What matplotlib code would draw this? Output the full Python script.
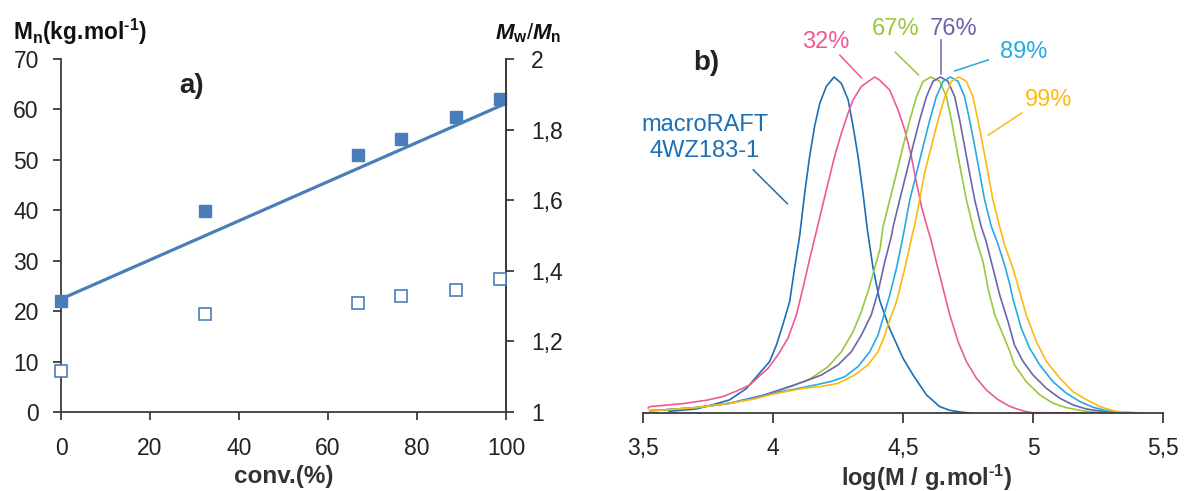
import numpy as np
import matplotlib
matplotlib.use("Agg")
import matplotlib.pyplot as plt

plt.rcParams['font.family'] = ['Liberation Sans', 'DejaVu Sans']
plt.rcParams['mathtext.fontset'] = 'custom'
plt.rcParams['mathtext.rm'] = 'Liberation Sans'
plt.rcParams['mathtext.bf'] = 'Liberation Sans:bold'
plt.rcParams['mathtext.it'] = 'Liberation Sans:italic:bold'

# ---------------- data: panel a ----------------
conv = [0, 32.3, 66.7, 76.4, 88.8, 98.7]
Mn = [22.0, 39.9, 50.9, 54.1, 58.4, 62.1]
dispersity = [1.117, 1.277, 1.308, 1.328, 1.347, 1.378]
trend_intercept = 22.4
trend_slope = 0.388
trend_range = [0, 100]
mn_ticks = [0, 10, 20, 30, 40, 50, 60, 70]
conv_ticks = [0, 20, 40, 60, 80, 100]
disp_ticks = [1.0, 1.2, 1.4, 1.6, 1.8, 2.0]
disp_ticklabels = ['1', '1,2', '1,4', '1,6', '1,8', '2']

# ---------------- data: panel b (GPC traces) ----------------
macro_x = [3.60, 3.705, 3.77, 3.833, 3.898, 3.95, 3.987, 4.013, 4.038, 4.064, 4.083, 4.103,
           4.122, 4.141, 4.16, 4.18, 4.205, 4.235, 4.263, 4.289, 4.308, 4.327, 4.346, 4.363,
           4.385, 4.41, 4.448, 4.5, 4.538, 4.59, 4.641, 4.68, 4.73, 4.76]
macro_y = [0.005, 0.012, 0.025, 0.039, 0.073, 0.12, 0.153, 0.202, 0.263, 0.331, 0.431, 0.530,
           0.655, 0.764, 0.853, 0.922, 0.972, 1.0, 0.981, 0.932, 0.853, 0.764, 0.655, 0.545,
           0.431, 0.336, 0.252, 0.163, 0.114, 0.054, 0.019, 0.008, 0.002, 0.0]

c32_x = [3.52, 3.526, 3.654, 3.744, 3.808, 3.859, 3.91, 3.945, 3.981, 4.019, 4.058, 4.09, 4.115,
         4.14, 4.165, 4.19, 4.212, 4.237, 4.263, 4.289, 4.308, 4.34, 4.391, 4.41, 4.449,
         4.481, 4.507, 4.532, 4.552, 4.571, 4.596, 4.606, 4.628, 4.654, 4.68, 4.712, 4.744, 4.782,
         4.821, 4.865, 4.91, 4.95, 4.974, 5.0, 5.2]
c32_y = [0.015, 0.019, 0.028, 0.038, 0.049, 0.065, 0.083, 0.108, 0.133, 0.173, 0.223, 0.292, 0.371,
         0.455, 0.535, 0.615, 0.685, 0.764, 0.833, 0.893, 0.932, 0.972, 1.0, 0.991, 0.961,
         0.902, 0.842, 0.764, 0.685, 0.615, 0.545, 0.52, 0.45, 0.371, 0.292, 0.212, 0.153, 0.104,
         0.068, 0.040, 0.020, 0.009, 0.004, 0.001, 0.0]

c67_x = [3.526, 3.577, 3.705, 3.833, 3.93, 3.994, 4.071, 4.148, 4.212, 4.263, 4.308, 4.34, 4.365,
         4.391, 4.412, 4.423, 4.449, 4.475, 4.5, 4.526, 4.552, 4.577, 4.607, 4.641, 4.667, 4.686,
         4.705, 4.724, 4.744, 4.769, 4.782, 4.808, 4.827, 4.853, 4.885, 4.91, 4.929, 4.974, 5.026,
         5.077, 5.128, 5.18, 5.22, 5.28]
c67_y = [0.007, 0.009, 0.016, 0.029, 0.044, 0.060, 0.079, 0.104, 0.138, 0.182, 0.242, 0.302, 0.361,
         0.431, 0.49, 0.554, 0.634, 0.714, 0.793, 0.872, 0.941, 0.987, 1.0, 0.987, 0.941, 0.872,
         0.793, 0.714, 0.634, 0.554, 0.515, 0.45, 0.371, 0.292, 0.232, 0.185, 0.143, 0.093, 0.054,
         0.029, 0.016, 0.008, 0.004, 0.001]

c76_x = [3.526, 3.577, 3.705, 3.833, 3.968, 4.045, 4.122, 4.186, 4.25, 4.301, 4.34, 4.378, 4.404,
         4.43, 4.455, 4.462, 4.487, 4.513, 4.538, 4.564, 4.59, 4.615, 4.644, 4.673, 4.699, 4.718,
         4.737, 4.756, 4.776, 4.801, 4.818, 4.846, 4.872, 4.904, 4.929, 4.962, 5.0, 5.052, 5.103,
         5.154, 5.205, 5.257, 5.3, 5.35]
c76_y = [0.007, 0.009, 0.016, 0.029, 0.054, 0.074, 0.094, 0.113, 0.143, 0.182, 0.232, 0.292, 0.361,
         0.45, 0.525, 0.554, 0.634, 0.714, 0.793, 0.872, 0.941, 0.987, 1.0, 0.987, 0.941, 0.872,
         0.793, 0.714, 0.634, 0.554, 0.515, 0.431, 0.351, 0.272, 0.202, 0.153, 0.113, 0.073, 0.044,
         0.024, 0.012, 0.006, 0.003, 0.001]

c89_x = [3.526, 3.577, 3.705, 3.833, 3.93, 4.006, 4.083, 4.16, 4.224, 4.276, 4.327, 4.372, 4.404,
         4.423, 4.449, 4.475, 4.5, 4.507, 4.526, 4.552, 4.577, 4.603, 4.628, 4.654, 4.682, 4.712,
         4.737, 4.756, 4.776, 4.795, 4.814, 4.84, 4.862, 4.891, 4.91, 4.923, 4.955, 4.987, 5.026,
         5.077, 5.128, 5.18, 5.231, 5.282, 5.32, 5.4]
c89_y = [0.007, 0.009, 0.016, 0.029, 0.044, 0.060, 0.071, 0.083, 0.094, 0.108, 0.138, 0.182, 0.232,
         0.282, 0.351, 0.431, 0.525, 0.554, 0.634, 0.714, 0.793, 0.872, 0.941, 0.987, 1.0, 0.987,
         0.941, 0.872, 0.793, 0.714, 0.634, 0.554, 0.51, 0.44, 0.385, 0.34, 0.252, 0.193, 0.143,
         0.093, 0.059, 0.034, 0.017, 0.007, 0.003, 0.0]

c99_x = [3.526, 3.577, 3.705, 3.833, 3.93, 3.994, 4.058, 4.122, 4.186, 4.25, 4.314, 4.365, 4.404,
         4.43, 4.442, 4.475, 4.507, 4.534, 4.545, 4.564, 4.583, 4.609, 4.635, 4.661, 4.686, 4.714,
         4.744, 4.769, 4.788, 4.808, 4.827, 4.846, 4.872, 4.891, 4.923, 4.949, 4.974, 5.013, 5.052,
         5.103, 5.154, 5.205, 5.257, 5.308, 5.33, 5.42]
c99_y = [0.007, 0.009, 0.016, 0.029, 0.042, 0.055, 0.065, 0.074, 0.079, 0.088, 0.113, 0.143, 0.182,
         0.232, 0.262, 0.331, 0.431, 0.525, 0.56, 0.634, 0.714, 0.793, 0.872, 0.941, 0.987, 1.0,
         0.987, 0.941, 0.872, 0.793, 0.714, 0.634, 0.554, 0.50, 0.43, 0.36, 0.292, 0.212, 0.153,
         0.104, 0.063, 0.040, 0.019, 0.007, 0.004, 0.0]

logm_ticks = [3.5, 4.0, 4.5, 5.0, 5.5]
logm_ticklabels = ['3,5', '4', '4,5', '5', '5,5']

trace_labels = ['macroRAFT\n4WZ183-1', '32%', '67%', '76%', '89%', '99%']
trace_colors = ['#1B6FB6', '#EE5A93', '#98C83D', '#6E63AD', '#27AAE1', '#FDB913']

# ---------------- figure ----------------
W, H = 1184, 491
fig = plt.figure(figsize=(W / 100, H / 100), dpi=100)

def fx(px):
    return px / W

def fy(py):
    return 1 - py / H

spine_col = '#3c3c3c'
mn_col = '#4A7EBB'
tick_fs = 16.5

# panel a
ax1 = fig.add_axes([fx(61), fy(412), fx(506) - fx(61), fy(59) - fy(412)])
ax1.set_xlim(0, 100)
ax1.set_ylim(0, 70)
ax1.set_xticks(conv_ticks)
ax1.set_yticks(mn_ticks)
ax1.spines['top'].set_visible(False)
for s in ['left', 'bottom', 'right']:
    ax1.spines[s].set_color(spine_col)
    ax1.spines[s].set_linewidth(1.3)
ax1.tick_params(axis='both', direction='out', length=6, width=1.3, color=spine_col,
                labelsize=tick_fs, labelcolor='#222222')
ax1.tick_params(axis='y', pad=10)
ax1.tick_params(axis='x', pad=12)

tx = np.array(trend_range, dtype=float)
ax1.plot(tx, trend_intercept + trend_slope * tx, color=mn_col, lw=2.3, zorder=2)
ax1.plot(conv, Mn, ls='none', marker='s', ms=9, color=mn_col, mec=mn_col, zorder=3, clip_on=False)

ax2 = ax1.twinx()
ax2.set_ylim(1, 2)
ax2.set_yticks(disp_ticks)
ax2.set_yticklabels(disp_ticklabels)
for s in ['top', 'left', 'bottom']:
    ax2.spines[s].set_visible(False)
ax2.spines['right'].set_color(spine_col)
ax2.spines['right'].set_linewidth(1.3)
ax2.tick_params(axis='y', direction='out', length=6, width=1.3, color=spine_col,
                labelsize=tick_fs, labelcolor='#222222', pad=12)
ax2.plot(conv, dispersity, ls='none', marker='s', ms=8.5, mfc='white', mec=mn_col, mew=1.2,
         zorder=3, clip_on=False)

fig.text(fx(13), fy(40), '$\\mathbf{M_n(kg.\\!mol^{\u2010 1})}$', fontsize=16.3, ha='left',
         va='baseline', color='#111111')
fig.text(fx(561), fy(39), r'$M_{\mathbf{w}}/M_{\mathbf{n}}$', fontsize=16, ha='right',
         va='baseline', color='#111111')
fig.text(fx(192), fy(86), 'a)', fontsize=20, fontweight='bold', ha='center', va='center',
         color='#222222')
fig.text(fx(284), fy(477), 'conv.(%)', fontsize=17.5, fontweight='bold', ha='center',
         va='center', color='#333333')

# panel b
ax3 = fig.add_axes([fx(643), fy(413), fx(1163) - fx(643), fy(59) - fy(413)])
ax3.set_xlim(3.5, 5.5)
ax3.set_ylim(0, 354 / 336)
for s in ['top', 'left', 'right']:
    ax3.spines[s].set_visible(False)
ax3.spines['bottom'].set_color(spine_col)
ax3.spines['bottom'].set_linewidth(1.3)
ax3.set_yticks([])
ax3.set_xticks(logm_ticks)
ax3.set_xticklabels(logm_ticklabels)
ax3.tick_params(axis='x', direction='out', length=7, width=1.3, color=spine_col,
                labelsize=tick_fs, labelcolor='#222222', pad=10)

traces = [(macro_x, macro_y), (c32_x, c32_y), (c67_x, c67_y), (c76_x, c76_y),
          (c89_x, c89_y), (c99_x, c99_y)]
for (xs, ys), col in zip(traces, trace_colors):
    ax3.plot(xs, ys, color=col, lw=1.2, zorder=2, solid_joinstyle='round')

# labels with leader lines (text pos, line start, line end) in data coords
label_pos = [(3.737, 0.818), (4.203, 1.104), (4.470, 1.143), (4.695, 1.143), (4.964, 1.074),
             (5.060, 0.933)]
leader_start = [(3.924, 0.724), (4.257, 1.065), (4.470, 1.074), (4.645, 1.110), (4.828, 1.051),
                (4.957, 0.893)]
leader_end = [(4.055, 0.623), (4.341, 0.997), (4.560, 1.006), (4.645, 1.009), (4.699, 1.018),
              (4.828, 0.827)]
for lab, pos, p0, p1, col in zip(trace_labels, label_pos, leader_start, leader_end, trace_colors):
    ax3.text(pos[0], pos[1], lab, color=col, fontsize=17, ha='center', va='center',
             linespacing=1.25, clip_on=False)
    ax3.plot([p0[0], p1[0]], [p0[1], p1[1]], color=col, lw=1.1, clip_on=False)

fig.text(fx(706), fy(63), 'b)', fontsize=20, fontweight='bold', ha='center', va='center',
         color='#222222')
fig.text(fx(927), fy(478), '$\\mathbf{log(M\\ /\\ g.\\!mol^{\u2010 1})}$', fontsize=17,
         ha='center', va='center', color='#333333')

fig.savefig('out.png', dpi=100)
